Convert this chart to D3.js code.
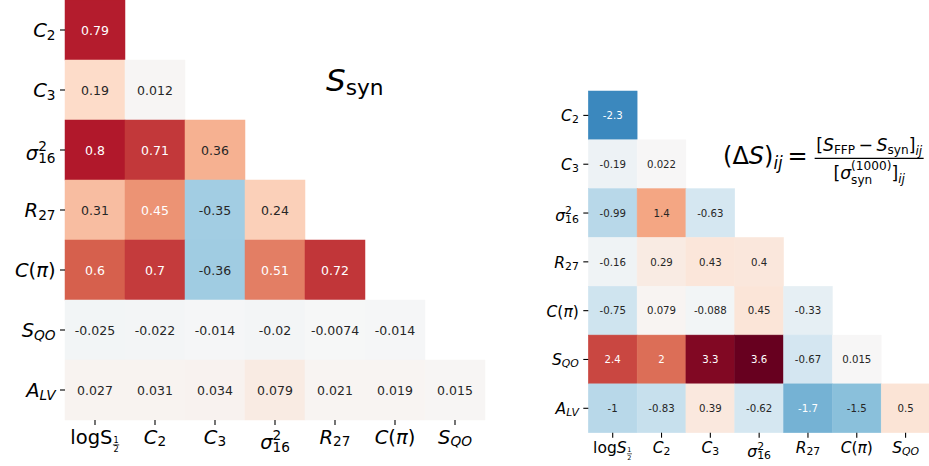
<!DOCTYPE html>
<html><head><meta charset="utf-8">
<script src="https://cdn.jsdelivr.net/npm/d3@7"></script>
<style>
body{margin:0;background:#fff}
text{font-family:"DejaVu Sans",sans-serif;}
</style>
</head><body>
<svg id="chart" width="929" height="466"></svg>
<script>
// ---------- DATA ----------
const variables = ["logS_1/2", "C_2", "C_3", "σ^2_16", "R_27", "C(π)", "S_QO", "A_LV"];
const colVars = variables.slice(0, 7);   // x tick labels
const rowVars = variables.slice(1);      // y tick labels

// Left panel: S_syn (lower triangle, row i has i+1 values)
const synValues = [
  [0.79],
  [0.19, 0.012],
  [0.8, 0.71, 0.36],
  [0.31, 0.45, -0.35, 0.24],
  [0.6, 0.7, -0.36, 0.51, 0.72],
  [-0.025, -0.022, -0.014, -0.02, -0.0074, -0.014],
  [0.027, 0.031, 0.034, 0.079, 0.021, 0.019, 0.015]
];
// Right panel: (ΔS)_ij
const deltaValues = [
  [-2.3],
  [-0.19, 0.022],
  [-0.99, 1.4, -0.63],
  [-0.16, 0.29, 0.43, 0.4],
  [-0.75, 0.079, -0.088, 0.45, -0.33],
  [2.4, 2, 3.3, 3.6, -0.67, 0.015],
  [-1, -0.83, 0.39, -0.62, -1.7, -1.5, 0.5]
];
const synRange = [-1, 1];
const deltaRange = [-3.56, 3.56];

// ---------- HELPERS ----------
const svg = d3.select("#chart");
const rdbuR = ["#053061","#2166ac","#4393c3","#92c5de","#d1e5f0","#f7f7f7","#fddbc7","#f4a582","#d6604d","#b2182b","#67001f"];
function makeColor(range) {
  const n = d3.scaleLinear().domain(range).range([0, 1]).clamp(true);
  const c = d3.scaleLinear().domain(d3.range(11).map(i => i / 10)).range(rdbuR).interpolate(d3.interpolateRgb);
  return v => c(Math.round(n(v) * 255) / 255);
}
function luminance(col) {
  const c = d3.rgb(col);
  const f = x => { x /= 255; return x <= 0.03928 ? x / 12.92 : Math.pow((x + 0.055) / 1.055, 2.4); };
  return 0.2126 * f(c.r) + 0.7152 * f(c.g) + 0.0722 * f(c.b);
}
const fmt = d3.formatLocale({decimal: ".", thousands: ",", grouping: [3], currency: ["", ""], minus: "-"}).format(".2~g");

// Draws a small math expression as ONE <text> element made of positioned tspans.
function mathLabel(parent, parts, fs) {
  const g = parent.append("g");
  const text = g.append("text").attr("fill", "#000");
  let cx = 0, asc = 0;
  const T = (str, size, italic, x, y, anchor) => text.append("tspan")
    .attr("x", x).attr("y", y).attr("font-size", size)
    .attr("font-style", italic ? "italic" : "normal")
    .attr("text-anchor", anchor || "start").text(str);
  const len = t => t.node().getComputedTextLength();
  parts.forEach(p => {
    if (p.frac) {
      const s = fs * p.s;
      const a = T(p.frac[0], s, false, 0, 0, "middle"), b = T(p.frac[1], s, false, 0, 0, "middle");
      const w = Math.max(len(a), len(b));
      const mid = cx + fs * 0.05 + w / 2;
      a.attr("x", mid).attr("y", fs * p.ay);
      b.attr("x", mid).attr("y", fs * p.by);
      g.append("line").attr("x1", mid - w / 2 - fs * 0.03).attr("x2", mid + w / 2 + fs * 0.03)
        .attr("y1", fs * p.ly).attr("y2", fs * p.ly).attr("stroke", "#000").attr("stroke-width", fs * 0.04);
      cx = mid + w / 2 + fs * 0.05;
      asc = Math.max(asc, -fs * p.ay + 0.73 * s);
    } else if (p.stack) {
      const s = fs * p.s;
      const a = T(p.stack[0], s, !!p.itA, cx, fs * p.ay);
      const b = T(p.stack[1], s, !!p.itB, cx, fs * p.by);
      cx += Math.max(len(a), len(b)) + fs * (p.k || 0);
      asc = Math.max(asc, -fs * p.ay + 0.76 * s);
    } else {
      const s = fs * (p.s || 1);
      const t = T(p.t, s, !!p.it, cx, fs * (p.dy || 0));
      cx += len(t) + fs * (p.k || 0);
      asc = Math.max(asc, -fs * (p.dy || 0) + (p.asc !== undefined ? p.asc : 0.73) * s);
    }
  });
  return {g, w: cx, asc};
}

function varParts(name, sItalic) {
  const sub = (t, it) => ({t, it: !!it, s: 0.7, dy: 0.15});
  switch (name) {
    case "logS_1/2": return [{t: "log", asc: 0.76}, {t: "S", it: sItalic}, {frac: ["1", "2"], s: 0.42, ay: -0.08, by: 0.41, ly: 0.04}];
    case "C_2": return [{t: "C", it: true}, sub("2")];
    case "C_3": return [{t: "C", it: true}, sub("3")];
    case "σ^2_16": return [{t: "σ", it: true, asc: 0.56}, {stack: ["2", "16"], s: 0.7, ay: -0.47, by: 0.15}];
    case "R_27": return [{t: "R", it: true}, sub("27")];
    case "C(π)": return [{t: "C", it: true}, {t: "(", asc: 0.76}, {t: "π", it: true, asc: 0.56}, {t: ")", asc: 0.76}];
    case "S_QO": return [{t: "S", it: true}, sub("QO", true)];
    case "A_LV": return [{t: "A", it: true}, sub("LV", true)];
  }
}

function heatmap(cfg) {
  const g = svg.append("g");
  const x = d3.scaleBand().domain(colVars).range([cfg.x0, cfg.x1]);
  const y = d3.scaleBand().domain(rowVars).range([cfg.y0, cfg.y1]);
  const color = makeColor(cfg.range);
  const cells = [];
  cfg.values.forEach((row, i) => row.forEach((v, j) => cells.push({r: rowVars[i], c: colVars[j], v})));
  g.selectAll("rect").data(cells).join("rect")
    .attr("x", d => x(d.c)).attr("y", d => y(d.r))
    .attr("width", x.bandwidth()).attr("height", y.bandwidth())
    .attr("fill", d => color(d.v)).attr("stroke", d => color(d.v)).attr("stroke-width", 0.5);
  g.selectAll("text.val").data(cells).join("text").attr("class", "val")
    .attr("x", d => x(d.c) + x.bandwidth() / 2)
    .attr("y", d => y(d.r) + y.bandwidth() / 2 + cfg.annFs * 0.365)
    .attr("text-anchor", "middle").attr("font-size", cfg.annFs)
    .attr("fill", d => luminance(color(d.v)) > 0.408 ? "#262626" : "#ffffff")
    .text(d => fmt(d.v));
  // ticks
  const tick = 5, pad = 4.5;
  rowVars.forEach(r => {
    const cy = y(r) + y.bandwidth() / 2;
    g.append("line").attr("x1", cfg.x0 - tick).attr("x2", cfg.x0).attr("y1", cy).attr("y2", cy)
      .attr("stroke", "#000").attr("stroke-width", 1.1);
    const m = mathLabel(g, varParts(r, true), cfg.labFs);
    m.g.attr("transform", `translate(${cfg.x0 - tick - pad - m.w},${cy + m.asc / 2})`);
  });
  colVars.forEach(c => {
    const cx = x(c) + x.bandwidth() / 2;
    g.append("line").attr("x1", cx).attr("x2", cx).attr("y1", cfg.y1).attr("y2", cfg.y1 + tick)
      .attr("stroke", "#000").attr("stroke-width", 1.1);
    const m = mathLabel(g, varParts(c, cfg.sItalic), cfg.labFs);
    m.g.attr("transform", `translate(${cx - m.w / 2},${cfg.y1 + tick + cfg.topPad + m.asc})`);
  });
}

heatmap({values: synValues, range: synRange, x0: 65, x1: 485, y0: 0, y1: 420, annFs: 12.5, labFs: 19.5, sItalic: false, topPad: 4.3});
heatmap({values: deltaValues, range: deltaRange, x0: 588.3, x1: 930, y0: 91, y1: 432.7, annFs: 10.2, labFs: 15.5, sItalic: true, topPad: 3.7});

// ---------- TITLES ----------
const t1 = mathLabel(svg, [{t: "S", it: true}, {t: "syn", s: 0.7, dy: 0.12}], 31);
t1.g.attr("transform", "translate(326,91)");

const fFs = 24;
const lhs = mathLabel(svg, [{t: "(", asc: 0.76}, {t: "Δ"}, {t: "S", it: true}, {t: ")", asc: 0.76},
  {t: "ij", it: true, s: 0.7, dy: 0.2, k: 0.2}, {t: "=", k: 0.25}], fFs);
lhs.g.attr("transform", "translate(723,164)");
const nFs = 17.3;
const num = mathLabel(svg, [{t: "["}, {t: "S", it: true}, {t: "FFP", s: 0.7, dy: 0.2, k: 0.2}, {t: "−", k: 0.2},
  {t: "S", it: true}, {t: "syn", s: 0.7, dy: 0.2}, {t: "]"}, {t: "ij", it: true, s: 0.7, dy: 0.25}], nFs);
const den = mathLabel(svg, [{t: "["}, {t: "σ", it: true}, {stack: ["(1000)", "syn"], s: 0.7, ay: -0.5, by: 0.3},
  {t: "]"}, {t: "ij", it: true, s: 0.7, dy: 0.25}], nFs);
const fx = 723 + lhs.w + 1;
const fw = Math.max(num.w, den.w) + 3;
const fc = fx + fw / 2;
svg.append("line").attr("x1", fx).attr("x2", fx + fw).attr("y1", 158.3).attr("y2", 158.3)
  .attr("stroke", "#000").attr("stroke-width", 1.3);
num.g.attr("transform", `translate(${fc - num.w / 2},150.5)`);
den.g.attr("transform", `translate(${fc - den.w / 2},178.5)`);
</script>
</body></html>
